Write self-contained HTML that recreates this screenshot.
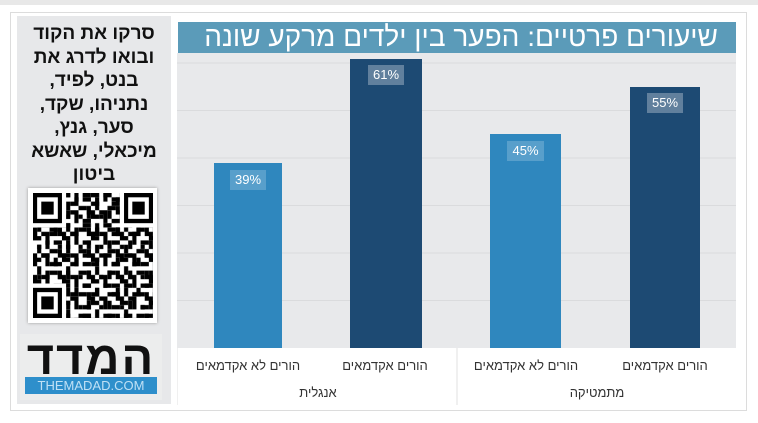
<!DOCTYPE html>
<html><head><meta charset="utf-8"><style>
body{margin:0;width:758px;height:423px;background:#fff;position:relative;overflow:hidden;font-family:"Liberation Sans","Noto Sans CJK JP",sans-serif}
.a{position:absolute}
</style></head><body>
<div class="a" style="left:0;top:0;width:758px;height:5px;background:#e8e8e8"></div>
<div class="a" style="left:10px;top:12px;width:735px;height:397px;background:#fff;border:1px solid #dcdcdc"></div>
<div class="a" style="left:17px;top:16px;width:154px;height:388px;background:#e7e8ea"></div>
<div class="a" dir="rtl" style="left:17px;top:22px;width:154px;text-align:center;font-weight:bold;font-size:19px;line-height:23.5px;color:#111;white-space:nowrap">סרקו את הקוד<br>ובואו לדרג את<br>בנט, לפיד,<br>נתניהו, שקד,<br>סער, גנץ,<br>מיכאלי, שאשא<br>ביטון</div>
<div class="a" style="left:28px;top:188px;width:129px;height:135px;background:#fff;box-shadow:0 0 3px #999"></div>
<svg class="a" style="left:33px;top:193px" width="120" height="125" viewBox="0 0 29 29" preserveAspectRatio="none">
<defs><pattern id="p" width="7" height="5" patternUnits="userSpaceOnUse">
<rect x="0" y="0" width="2" height="1"/><rect x="3" y="0" width="1" height="2"/><rect x="5" y="1" width="2" height="1"/><rect x="1" y="2" width="1" height="2"/><rect x="4" y="3" width="2" height="1"/><rect x="0" y="4" width="1" height="1"/><rect x="6" y="3" width="1" height="2"/><rect x="2" y="4" width="2" height="1"/></pattern>
<pattern id="q" width="5" height="7" patternUnits="userSpaceOnUse"><rect x="0" y="1" width="1" height="2"/><rect x="2" y="0" width="2" height="1"/><rect x="3" y="4" width="1" height="2"/><rect x="1" y="5" width="1" height="1"/><rect x="4" y="2" width="1" height="1"/></pattern></defs>
<rect width="29" height="29" fill="url(#p)"/><rect width="29" height="29" fill="url(#q)"/>
<g><rect x="0" y="0" width="8" height="8" fill="#fff"/><rect x="0" y="0" width="7" height="7"/><rect x="1" y="1" width="5" height="5" fill="#fff"/><rect x="2" y="2" width="3" height="3"/></g>
<g><rect x="21" y="0" width="8" height="8" fill="#fff"/><rect x="22" y="0" width="7" height="7"/><rect x="23" y="1" width="5" height="5" fill="#fff"/><rect x="24" y="2" width="3" height="3"/></g>
<g><rect x="0" y="21" width="8" height="8" fill="#fff"/><rect x="0" y="22" width="7" height="7"/><rect x="1" y="23" width="5" height="5" fill="#fff"/><rect x="2" y="24" width="3" height="3"/></g>
</svg>
<div class="a" style="left:20px;top:334px;width:142px;height:66px;background:#eceded"></div>
<div class="a" dir="rtl" style="left:20px;top:333px;width:142px;text-align:center;font-weight:bold;font-size:47px;line-height:50px;color:#111;letter-spacing:2px">המדד</div>
<div class="a" style="left:25px;top:377px;width:132px;height:17px;background:#2e8fcb;color:#bfe0f5;font-size:13px;line-height:17px;text-align:center">THEMADAD.COM</div>
<div class="a" style="left:177px;top:53px;width:559px;height:295px;background:#e8e9eb"></div>
<svg class="a" style="left:177px;top:0" width="559" height="423">
<g stroke="#dadbdd" stroke-width="1"><line x1="0" x2="559" y1="63" y2="63"/><line x1="0" x2="559" y1="110.5" y2="110.5"/><line x1="0" x2="559" y1="158" y2="158"/><line x1="0" x2="559" y1="205.5" y2="205.5"/><line x1="0" x2="559" y1="253" y2="253"/><line x1="0" x2="559" y1="300.5" y2="300.5"/></g>
<line x1="280" x2="280" y1="348" y2="405" stroke="#e0e0e0"/>
<line x1="0" x2="0" y1="348" y2="405" stroke="#e0e0e0"/>
</svg>
<div class="a" style="left:178px;top:22px;width:558px;height:31px;background:#5b9bb9"></div>
<div class="a" dir="rtl" style="left:178px;top:19px;width:540px;text-align:right;color:#fff;font-size:28px;line-height:36px;white-space:nowrap">שיעורים פרטיים: הפער בין ילדים מרקע שונה</div>
<div class="a" style="left:214px;top:163px;width:68px;height:185px;background:#2f87be"></div>
<div class="a" style="left:350px;top:59px;width:72px;height:289px;background:#1d4a73"></div>
<div class="a" style="left:490px;top:134px;width:71px;height:214px;background:#2f87be"></div>
<div class="a" style="left:630px;top:87px;width:70px;height:261px;background:#1d4a73"></div>
<div class="a" style="left:230px;top:170px;width:36px;height:20px;background:rgba(255,255,255,.2);color:#fff;font-size:13px;line-height:20px;text-align:center">39%</div>
<div class="a" style="left:368px;top:65px;width:36px;height:20px;background:rgba(255,255,255,.3);color:#fff;font-size:13px;line-height:20px;text-align:center">61%</div>
<div class="a" style="left:507px;top:141px;width:37px;height:20px;background:rgba(255,255,255,.2);color:#fff;font-size:13px;line-height:20px;text-align:center">45%</div>
<div class="a" style="left:647px;top:93px;width:36px;height:20px;background:rgba(255,255,255,.3);color:#fff;font-size:13px;line-height:20px;text-align:center">55%</div>
<div class="a" dir="rtl" style="left:180px;top:358px;width:136px;text-align:center;font-size:13px;color:#333">הורים לא אקדמאים</div>
<div class="a" dir="rtl" style="left:320px;top:358px;width:130px;text-align:center;font-size:13px;color:#333">הורים אקדמאים</div>
<div class="a" dir="rtl" style="left:458px;top:358px;width:136px;text-align:center;font-size:13px;color:#333">הורים לא אקדמאים</div>
<div class="a" dir="rtl" style="left:600px;top:358px;width:130px;text-align:center;font-size:13px;color:#333">הורים אקדמאים</div>
<div class="a" dir="rtl" style="left:178px;top:385px;width:280px;text-align:center;font-size:13px;color:#333">אנגלית</div>
<div class="a" dir="rtl" style="left:458px;top:385px;width:278px;text-align:center;font-size:13px;color:#333">מתמטיקה</div>
</body></html>
